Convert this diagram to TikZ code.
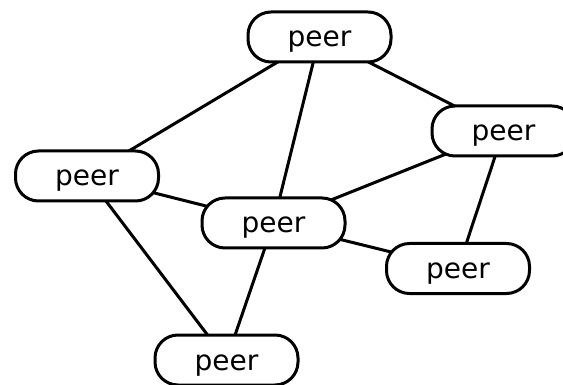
\documentclass[tikz,border=0pt]{standalone}
\usepackage{fontspec}
\setmainfont{DejaVu Sans}
\usepackage{tikz}
\usetikzlibrary{backgrounds}
\tikzset{peer/.style={draw, fill=white, line width=3pt, rounded corners=23pt,
    minimum width=143pt, minimum height=50pt, inner sep=0pt, text depth=0pt,
    text height=20pt, font=\fontsize{28}{34}\selectfont},
  link/.style={line width=3pt}}

\begin{document}
\begin{tikzpicture}[x=1pt, y=-1pt]
        \useasboundingbox (0,0) rectangle (563,385);
        \node[peer] (p1) at (319.5,37) {peer}; %top
        \node[peer] (p2) at (503.5,131) {peer};
        \node[peer] (p3) at (87,176) {peer};
        \node[peer] (p4) at (273.5,223) {peer};
        \node[peer] (p5) at (458,268.5) {peer};
        \node[peer] (p6) at (226.5,360) {peer};

        \begin{pgfonlayer}{background}
        \draw[link] (p1.center) -- (p3.center);
        \draw[link] (p1.center) -- (p4.center);
        \draw[link] (p1.center) -- (p2.center);
        \draw[link] (p2.center) -- (p4.center);
        \draw[link] (p2.center) -- (p5.center);
        \draw[link] (p3.center) -- (p4.center);
        \draw[link] (p3.center) -- (p6.center);
        \draw[link] (p4.center) -- (p6.center);
        \draw[link] (p4.center) -- (p5.center);
        \end{pgfonlayer}
      \end{tikzpicture}
\end{document}
